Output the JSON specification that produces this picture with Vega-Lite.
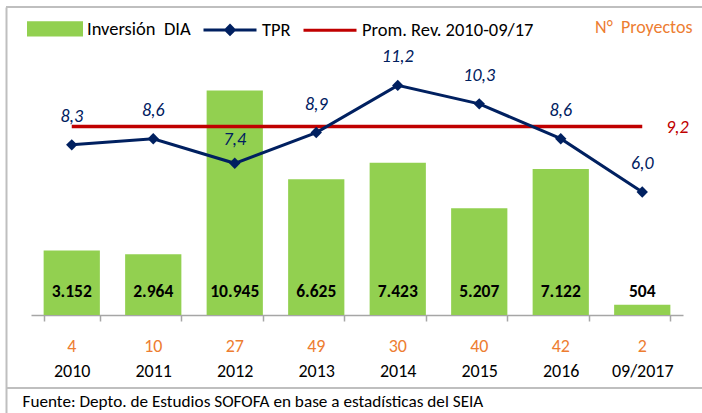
{
  "$schema": "https://vega.github.io/schema/vega-lite/v6.json",
  "width": 696,
  "height": 406,
  "autosize": {"type": "none"},
  "padding": {"left": 6, "top": 7, "right": 0, "bottom": 0},
  "config": {
    "locale": {"number": {"decimal": ",", "thousands": ".", "grouping": [3], "currency": ["$", ""]}},
    "font": "Carlito, Lato",
    "view": {"stroke": null}
  },
  "data": {
    "values": [
      {"year": "2010", "inv": 3152, "tpr": 8.3, "n": 4, "prom": 9.2},
      {"year": "2011", "inv": 2964, "tpr": 8.6, "n": 10, "prom": 9.2},
      {"year": "2012", "inv": 10945, "tpr": 7.4, "n": 27, "prom": 9.2},
      {"year": "2013", "inv": 6625, "tpr": 8.9, "n": 49, "prom": 9.2},
      {"year": "2014", "inv": 7423, "tpr": 11.2, "n": 30, "prom": 9.2},
      {"year": "2015", "inv": 5207, "tpr": 10.3, "n": 40, "prom": 9.2},
      {"year": "2016", "inv": 7122, "tpr": 8.6, "n": 42, "prom": 9.2},
      {"year": "09/2017", "inv": 504, "tpr": 6.0, "n": 2, "prom": 9.2}
    ]
  },
  "layer": [
    {
      "layer": [
        {
          "mark": {"type": "rule", "color": "#bfbfbf", "strokeWidth": 2},
          "encoding": {"y": {"datum": 15024, "type": "quantitative", "scale": {"domain": [-4780, 15024], "nice": false}, "axis": null}}
        },
        {
          "mark": {"type": "rule", "color": "#bfbfbf", "strokeWidth": 2},
          "encoding": {"y": {"datum": -3561, "type": "quantitative"}}
        }
      ]
    },
    {
      "encoding": {
        "x": {
          "field": "year",
          "type": "nominal",
          "sort": null,
          "scale": {"range": [25, 677], "paddingInner": 0.31, "paddingOuter": 0.155},
          "axis": {
            "orient": "bottom",
            "offset": -98,
            "title": "Fuente: Depto. de Estudios SOFOFA en base a estadísticas del SEIA",
            "titleX": 16,
            "titleY": 86,
            "titleAlign": "left",
            "titleAnchor": "start",
            "titleBaseline": "middle",
            "titleFontSize": 17.2,
            "titleFontWeight": "normal",
            "titleColor": "#000000",
            "labelAngle": 0,
            "labelFontSize": 18,
            "labelColor": "#000000",
            "labelPadding": 50,
            "labelBaseline": "middle",
            "tickBand": "extent",
            "tickSize": 6,
            "tickColor": "#a6a6a6",
            "tickWidth": 1.5,
            "domainColor": "#a6a6a6",
            "domainWidth": 1.5,
            "grid": false
          }
        }
      },
      "layer": [
        {
          "layer": [
            {
              "mark": {"type": "bar"},
              "encoding": {
                "y": {
                  "field": "inv",
                  "type": "quantitative",
                  "scale": {"domain": [-4780, 15024], "nice": false},
                  "axis": {
                    "orient": "left",
                    "values": [],
                    "labels": false,
                    "ticks": false,
                    "domain": true,
                    "domainColor": "#bfbfbf",
                    "domainWidth": 2,
                    "grid": false,
                    "title": null,
                    "offset": 0
                  }
                },
                "color": {
                  "datum": "Inversión\u00a0 DIA",
                  "scale": {
                    "domain": ["Inversión\u00a0 DIA", "TPR", "Prom. Rev. 2010-09/17"],
                    "range": ["#92D050", "#002060", "#C00000"]
                  },
                  "legend": {
                    "orient": "none",
                    "legendX": 21,
                    "legendY": -6.5,
                    "direction": "horizontal",
                    "title": null,
                    "symbolSize": 2809,
                    "labelFontSize": 18.5,
                    "labelColor": "#000000",
                    "labelOffset": 4,
                    "labelLimit": 400,
                    "columnPadding": 6,
                    "symbolStrokeWidth": 0,
                    "encode": {
                      "symbols": {
                        "update": {
                          "shape": {"signal": "datum.value === 'TPR' ? 'M-1,0H1M0,-0.16L0.16,0L0,0.16L-0.16,0Z' : (indexof(datum.value, 'Prom') === 0 ? 'M-1,0H1' : 'M-1,-0.23H1V0.23H-1Z')"},
                          "fill": {"signal": "indexof(datum.value, 'Prom') === 0 ? 'transparent' : scale('color', datum.value)"},
                          "stroke": {"signal": "indexof(datum.value, 'Inv') === 0 ? 'transparent' : scale('color', datum.value)"},
                          "strokeWidth": {"value": 3},
                          "size": {"value": 2809},
                          "opacity": {"value": 1}
                        }
                      }
                    }
                  }
                }
              }
            },
            {
              "mark": {"type": "text", "fontWeight": "bold", "fontSize": 17.5, "color": "#000000", "baseline": "middle", "dy": -23},
              "encoding": {
                "y": {"datum": 0, "type": "quantitative"},
                "text": {"field": "inv", "type": "quantitative", "format": ",d"}
              }
            },
            {
              "mark": {"type": "text", "fontSize": 18, "color": "#ED7D31", "baseline": "middle", "dy": 32},
              "encoding": {
                "y": {"datum": 0, "type": "quantitative"},
                "text": {"field": "n", "type": "quantitative"}
              }
            }
          ]
        },
        {
          "layer": [
            {
              "mark": {"type": "line", "strokeWidth": 3.5},
              "encoding": {
                "y": {
                  "field": "prom",
                  "type": "quantitative",
                  "scale": {"domain": [-4.7805, 15.0244], "nice": false},
                  "axis": {
                    "orient": "right",
                    "values": [],
                    "labels": false,
                    "ticks": false,
                    "domain": false,
                    "grid": false,
                    "title": "N°\u00a0 Proyectos",
                    "titleAngle": 0,
                    "titleX": -10,
                    "titleY": 20,
                    "titleAlign": "right",
                    "titleAnchor": null,
                    "titleBaseline": "middle",
                    "titleFontSize": 18,
                    "titleFontWeight": "normal",
                    "titleColor": "#ED7D31"
                  }
                },
                "color": {"datum": "Prom. Rev. 2010-09/17"}
              }
            },
            {
              "transform": [{"filter": "datum.year === '09/2017'"}],
              "mark": {"type": "text", "fontSize": 18, "fontStyle": "italic", "color": "#C00000", "baseline": "alphabetic", "dx": 35, "dy": 7},
              "encoding": {
                "y": {"field": "prom", "type": "quantitative"},
                "text": {"field": "prom", "type": "quantitative", "format": ".1f"}
              }
            },
            {
              "mark": {"type": "line", "strokeWidth": 3, "point": {"shape": "diamond", "size": 130, "filled": true}},
              "encoding": {
                "y": {"field": "tpr", "type": "quantitative"},
                "color": {"datum": "TPR"}
              }
            },
            {
              "transform": [{"filter": "datum.year !== '2012'"}],
              "mark": {"type": "text", "fontSize": 18, "fontStyle": "italic", "color": "#002060", "baseline": "alphabetic", "dy": -23},
              "encoding": {
                "y": {"field": "tpr", "type": "quantitative"},
                "text": {"field": "tpr", "type": "quantitative", "format": ".1f"}
              }
            },
            {
              "transform": [{"filter": "datum.year === '2012'"}],
              "mark": {"type": "text", "fontSize": 18, "fontStyle": "italic", "color": "#002060", "baseline": "alphabetic", "dy": -18},
              "encoding": {
                "y": {"field": "tpr", "type": "quantitative"},
                "text": {"field": "tpr", "type": "quantitative", "format": ".1f"}
              }
            }
          ]
        }
      ],
      "resolve": {"scale": {"y": "independent"}}
    }
  ],
  "resolve": {"scale": {"y": "independent"}}
}
